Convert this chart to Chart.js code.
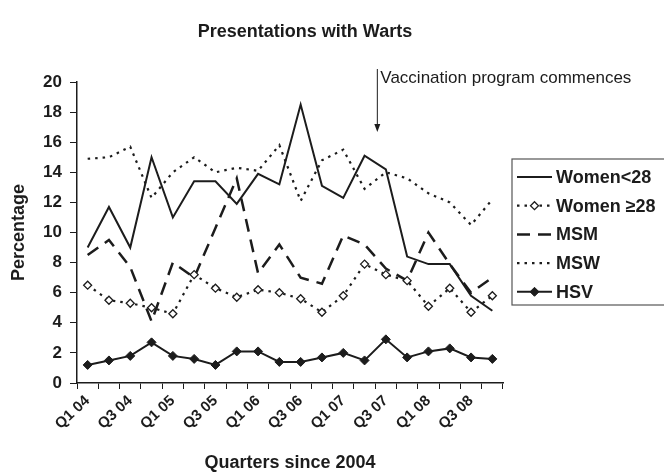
<!DOCTYPE html>
<html>
<head>
<meta charset="utf-8">
<title>Presentations with Warts</title>
<script src="https://cdn.jsdelivr.net/npm/chart.js@4.4.1/dist/chart.umd.min.js"></script>
<style>
  body { margin: 0; background: #fff; }
  canvas { display: block; }
</style>
</head>
<body>
<canvas id="wartsChart" width="664" height="475"></canvas>
<script>
const quarters = ['Q1 04', 'Q2 04', 'Q3 04', 'Q4 04', 'Q1 05', 'Q2 05', 'Q3 05', 'Q4 05',
                  'Q1 06', 'Q2 06', 'Q3 06', 'Q4 06', 'Q1 07', 'Q2 07', 'Q3 07', 'Q4 07',
                  'Q1 08', 'Q2 08', 'Q3 08', 'Q4 08'];
const womenUnder28 = [9.0, 11.7, 9.0, 15.0, 11.0, 13.4, 13.4, 11.9, 13.9, 13.2,
                      18.5, 13.1, 12.3, 15.1, 14.2, 8.4, 7.9, 7.9, 5.8, 4.8];
const women28Plus = [6.5, 5.5, 5.3, 5.0, 4.6, 7.2, 6.3, 5.7, 6.2, 6.0,
                     5.6, 4.7, 5.8, 7.9, 7.2, 6.8, 5.1, 6.3, 4.7, 5.8];
const msm = [8.5, 9.5, 7.7, 4.1, 8.0, 7.0, 10.3, 13.6, 7.3, 9.2,
             7.0, 6.6, 9.8, 9.2, 7.6, 6.8, 10.0, 7.9, 6.0, 7.0];
const msw = [14.9, 15.0, 15.7, 12.3, 14.0, 15.0, 14.0, 14.3, 14.1, 15.8,
             12.1, 14.8, 15.5, 12.9, 14.0, 13.6, 12.6, 12.0, 10.5, 12.2];
const hsv = [1.2, 1.5, 1.8, 2.7, 1.8, 1.6, 1.2, 2.1, 2.1, 1.4,
             1.4, 1.7, 2.0, 1.5, 2.9, 1.7, 2.1, 2.3, 1.7, 1.6];
const yTicks = [0, 2, 4, 6, 8, 10, 12, 14, 16, 18, 20];
const vaccinationAt = 13.6; // category position of the arrow

const ink = '#1c1c1c';
const fontFamily = '"Liberation Sans", Arial, sans-serif';

// title, annotation arrow and the boxed legend
const extrasPlugin = {
    id: 'extras',
    afterDraw(chart) {
        const ctx = chart.ctx;
        const x = chart.scales.x;
        ctx.save();
        ctx.fillStyle = ink;
        ctx.strokeStyle = ink;

        ctx.font = 'bold 18px ' + fontFamily;
        ctx.textAlign = 'center';
        ctx.textBaseline = 'middle';
        ctx.fillText('Presentations with Warts', 305, 32);

        const ax = x.getPixelForValue(0) + (x.getPixelForValue(1) - x.getPixelForValue(0)) * vaccinationAt;
        ctx.lineWidth = 1;
        ctx.beginPath();
        ctx.moveTo(ax, 69);
        ctx.lineTo(ax, 126);
        ctx.stroke();
        ctx.beginPath();
        ctx.moveTo(ax - 3, 124);
        ctx.lineTo(ax + 3, 124);
        ctx.lineTo(ax, 132);
        ctx.closePath();
        ctx.fill();
        ctx.font = '17px ' + fontFamily;
        ctx.textAlign = 'left';
        ctx.textBaseline = 'alphabetic';
        ctx.fillText('Vaccination program commences', ax + 3, 83);

        // legend
        ctx.lineWidth = 1.2;
        ctx.strokeStyle = '#555';
        ctx.strokeRect(512, 159, 160, 146);
        ctx.font = 'bold 18px ' + fontFamily;
        ctx.textBaseline = 'middle';
        chart.data.datasets.forEach((ds, i) => {
            const y = 177 + i * 28.7;
            ctx.strokeStyle = ink;
            ctx.lineWidth = ds.borderWidth;
            ctx.setLineDash(ds.borderDash || []);
            ctx.beginPath();
            ctx.moveTo(517, y);
            ctx.lineTo(552, y);
            ctx.stroke();
            ctx.setLineDash([]);
            if (ds.pointRadius > 0) {
                const r = ds.pointRadius;
                ctx.beginPath();
                ctx.moveTo(534.5, y - r);
                ctx.lineTo(534.5 + r, y);
                ctx.lineTo(534.5, y + r);
                ctx.lineTo(534.5 - r, y);
                ctx.closePath();
                ctx.fillStyle = ds.pointBackgroundColor;
                ctx.fill();
                ctx.lineWidth = ds.pointBorderWidth;
                ctx.stroke();
            }
            ctx.fillStyle = ink;
            ctx.fillText(ds.label, 556, y + 1);
        });
        ctx.restore();
    }
};

const ctx = document.getElementById('wartsChart').getContext('2d');
new Chart(ctx, {
    type: 'line',
    data: {
        labels: quarters,
        datasets: [
            {
                label: 'Women<28',
                data: womenUnder28,
                borderColor: ink,
                borderWidth: 2,
                pointRadius: 0
            },
            {
                label: 'Women ≥28',
                data: women28Plus,
                borderColor: ink,
                borderWidth: 2.2,
                borderDash: [2.5, 5],
                pointStyle: 'rectRot',
                pointRadius: 4,
                pointBackgroundColor: '#fff',
                pointBorderColor: ink,
                pointBorderWidth: 1.3
            },
            {
                label: 'MSM',
                data: msm,
                borderColor: ink,
                borderWidth: 2.5,
                borderDash: [13, 8],
                pointRadius: 0
            },
            {
                label: 'MSW',
                data: msw,
                borderColor: ink,
                borderWidth: 2.2,
                borderDash: [2.5, 5],
                pointRadius: 0
            },
            {
                label: 'HSV',
                data: hsv,
                borderColor: ink,
                borderWidth: 2,
                pointStyle: 'rectRot',
                pointRadius: 4.5,
                pointBackgroundColor: ink,
                pointBorderColor: ink,
                pointBorderWidth: 1
            }
        ]
    },
    options: {
        responsive: false,
        animation: false,
        layout: { padding: { top: 82, right: 161, left: 0, bottom: 0 } },
        plugins: {
            legend: { display: false },
            tooltip: { enabled: false }
        },
        scales: {
            x: {
                type: 'category',
                offset: true,
                grid: { offset: true, drawOnChartArea: false, drawTicks: true, tickLength: 6, color: ink },
                border: { display: true, color: ink, width: 1.5 },
                ticks: {
                    autoSkip: false,
                    minRotation: 43,
                    maxRotation: 43,
                    padding: 3,
                    color: ink,
                    font: { family: fontFamily, size: 15, weight: 'bold' },
                    callback: function(value, index) {
                        return index % 2 === 0 ? this.getLabelForValue(value) : '';
                    }
                },
                title: {
                    display: true,
                    text: 'Quarters since 2004',
                    color: ink,
                    font: { family: fontFamily, size: 18, weight: 'bold' },
                    padding: { top: 4, bottom: 1 }
                },
                afterFit(scale) { scale.height = 92; }
            },
            y: {
                min: 0,
                max: 20,
                afterBuildTicks(scale) { scale.ticks = yTicks.map(v => ({ value: v })); },
                grid: { drawOnChartArea: false, drawTicks: true, tickLength: 7, color: ink },
                border: { display: true, color: ink, width: 1.5 },
                ticks: {
                    padding: 8,
                    color: ink,
                    font: { family: fontFamily, size: 17, weight: 'bold' }
                },
                title: {
                    display: true,
                    text: 'Percentage',
                    color: ink,
                    font: { family: fontFamily, size: 18, weight: 'bold' },
                    padding: { top: 8, bottom: 6 }
                },
                afterFit(scale) { scale.width = 77; }
            }
        }
    },
    plugins: [extrasPlugin]
});
</script>
</body>
</html>
